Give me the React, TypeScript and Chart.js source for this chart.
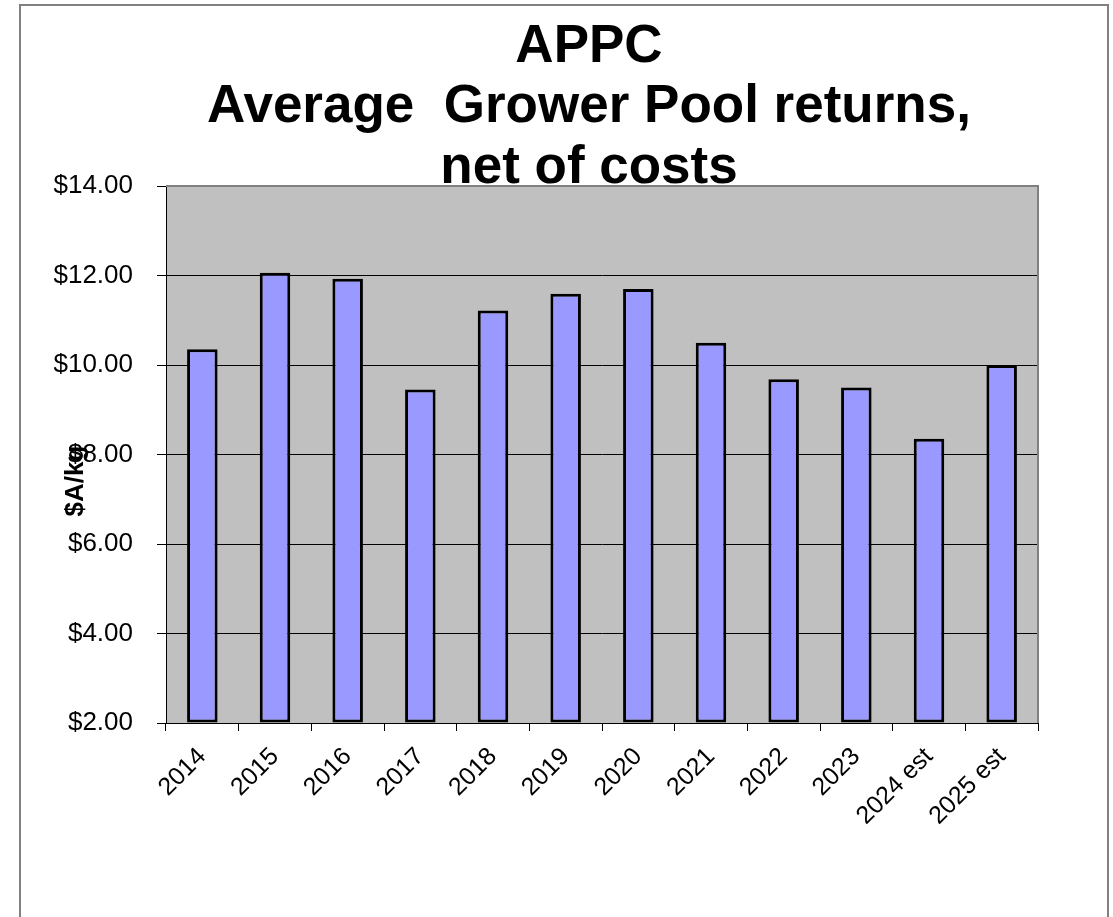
import React, { useEffect, useRef } from "react";
import { Chart, registerables } from "chart.js";

Chart.register(...registerables);

const categories = ["2014", "2015", "2016", "2017", "2018", "2019", "2020", "2021", "2022", "2023", "2024 est", "2025 est"];
const returnsValues = [10.35, 12.06, 11.93, 9.45, 11.22, 11.59, 11.7, 10.5, 9.68, 9.5, 8.35, 10.0];
const titleLines = ["APPC", "Average  Grower Pool returns,", "net of costs"];
const yAxisTitle = "$A/kg";
const yMin = 2;
const yMax = 14;
const yStep = 2;

const W = 1113;
const H = 917;
const FONT = "'Liberation Sans', Arial, sans-serif";

const decorPlugin = {
  id: "decor",
  beforeDraw(chart: any) {
    const { ctx, chartArea } = chart;
    ctx.save();
    ctx.fillStyle = "#ffffff";
    ctx.fillRect(0, 0, W, H);
    // outer frame
    ctx.strokeStyle = "#808080";
    ctx.lineWidth = 2;
    ctx.beginPath();
    ctx.moveTo(20, H + 2);
    ctx.lineTo(20, 5);
    ctx.lineTo(1108, 5);
    ctx.lineTo(1108, H + 2);
    ctx.stroke();
    // plot background
    ctx.fillStyle = "#C0C0C0";
    ctx.fillRect(chartArea.left, chartArea.top, chartArea.right - chartArea.left, chartArea.bottom - chartArea.top);
    ctx.restore();
  },
  afterDraw(chart: any) {
    const { ctx, chartArea } = chart;
    ctx.save();
    // plot top and right border
    ctx.strokeStyle = "#808080";
    ctx.lineWidth = 2;
    ctx.beginPath();
    ctx.moveTo(chartArea.left, chartArea.top);
    ctx.lineTo(chartArea.right, chartArea.top);
    ctx.lineTo(chartArea.right, chartArea.bottom);
    ctx.stroke();
    // title
    ctx.fillStyle = "#000";
    ctx.font = `bold 53px ${FONT}`;
    ctx.textAlign = "center";
    ctx.textBaseline = "alphabetic";
    const baselines = [62, 122, 183];
    titleLines.forEach((line, i) => ctx.fillText(line, 589, baselines[i]));
    // y axis title
    ctx.translate(76, 481);
    ctx.rotate(-Math.PI / 2);
    ctx.font = `bold 26px ${FONT}`;
    ctx.textBaseline = "middle";
    ctx.fillText(yAxisTitle, 0, 0);
    ctx.restore();
  },
};

export default function App() {
  const ref = useRef<HTMLCanvasElement | null>(null);
  useEffect(() => {
    if (!ref.current) return;
    const chart = new Chart(ref.current, {
      type: "bar",
      data: {
        labels: categories,
        datasets: [
          {
            data: returnsValues,
            base: yMin,
            backgroundColor: "#9999FF",
            borderColor: "#000000",
            borderWidth: 3,
            borderSkipped: false,
            barPercentage: 0.42,
            categoryPercentage: 1,
          } as any,
        ],
      },
      options: {
        responsive: false,
        animation: false,
        devicePixelRatio: 1,
        layout: { padding: { top: 186, right: 75, left: 0, bottom: 0 } },
        plugins: {
          legend: { display: false },
          tooltip: { enabled: false },
          title: { display: false },
        },
        scales: {
          x: {
            offset: true,
            grid: { offset: true, drawOnChartArea: false, drawTicks: true, tickLength: 8, color: "#000" },
            border: { color: "#000", width: 1 },
            ticks: {
              color: "#000",
              font: { family: FONT, size: 25 },
              maxRotation: 45,
              minRotation: 45,
              autoSkip: false,
              padding: 11,
            },
            afterFit: (scale: any) => {
              scale.height = 194;
            },
          },
          y: {
            min: yMin,
            max: yMax,
            grid: { color: "#000", lineWidth: 1, tickLength: 9 },
            border: { color: "#000", width: 1 },
            ticks: {
              stepSize: yStep,
              color: "#000",
              font: { family: FONT, size: 26 },
              padding: 24,
              callback: (v: any) => "$" + Number(v).toFixed(2),
            },
            afterFit: (scale: any) => {
              scale.width = 166;
            },
          },
        },
      },
      plugins: [decorPlugin],
    });
    return () => chart.destroy();
  }, []);
  return (
    <div style={{ position: "absolute", left: 0, top: 0, width: W, height: H }}>
      <canvas ref={ref} width={W} height={H} style={{ width: W, height: H, display: "block" }} />
    </div>
  );
}
